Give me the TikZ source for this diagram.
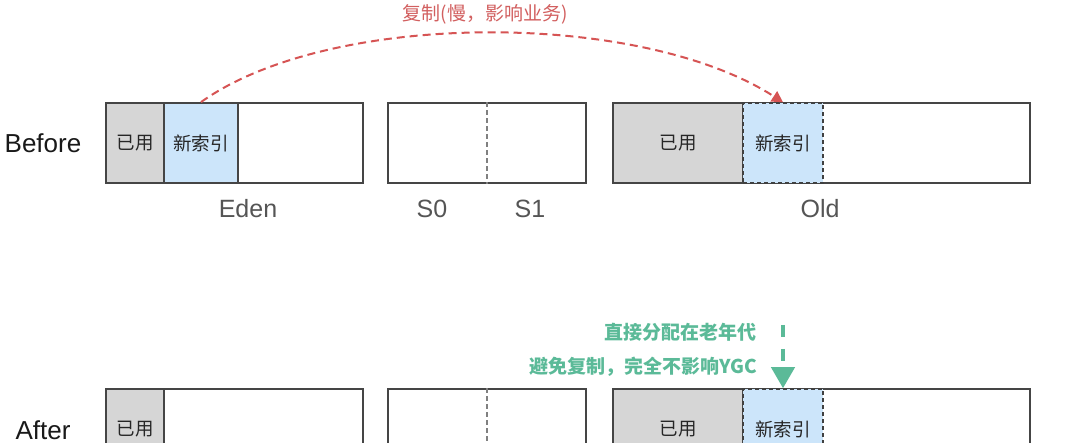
\documentclass[tikz,border=0pt]{standalone}
\usepackage{fontspec}
\setmainfont{Liberation Sans}
\newfontfamily\cjk{Noto Sans CJK SC}
\usetikzlibrary{arrows.meta}
\definecolor{boxline}{HTML}{454545}
\definecolor{usedfill}{HTML}{D6D6D6}
\definecolor{newfill}{HTML}{CCE5FA}
\definecolor{labgray}{HTML}{555555}
\definecolor{redc}{HTML}{D65454}
\definecolor{redtxt}{HTML}{D25F5F}
\definecolor{greenc}{HTML}{5BBA98}
\tikzset{
  region/.style={draw=boxline, line width=1.8pt, inner sep=0pt, minimum height=80pt},
  usedblk/.style={region, fill=usedfill, font=\cjk\fontsize{18.5}{20}\selectfont, text=black!85},
  newblk/.style={region, fill=newfill, font=\cjk\fontsize{18.5}{20}\selectfont, text=black!85},
  newdashed/.style={newblk, dash pattern=on 4pt off 3pt, line width=1.5pt, draw=black!75},
  genlabel/.style={font=\fontsize{25}{27}\selectfont, text=labgray, inner sep=0pt},
  rowlabel/.style={font=\fontsize{26}{28}\selectfont, text=black!90, inner sep=0pt},
  divider/.style={draw=black!50, line width=1.3pt, dash pattern=on 5pt off 3pt},
  redarrow/.style={draw=redc, line width=2pt, dash pattern=on 8pt off 5pt, -{Triangle[length=11pt,width=12pt]}},
  greenarrow/.style={draw=greenc, line width=4pt, dash pattern=on 12pt off 12pt, -{Triangle[length=21pt,width=23pt]}},
  greentxt/.style={font=\cjk\bfseries\fontsize{19}{21}\selectfont, text=greenc, inner sep=0pt, anchor=east},
}
\begin{document}
\begin{tikzpicture}[x=1pt,y=-1pt]
\useasboundingbox (0,0) rectangle (1080,443);
\fill[white] (0,0) rectangle (1080,443);
\clip (0,0) rectangle (1080,443);

% ---------- Before ----------
\node[rowlabel] (before) at (43,143) {Before};

\node[region, minimum width=257pt] (eden) at (234.5,143) {};
\node[usedblk, minimum width=58pt] (edenused) at (135,143) {已用};
\node[newblk, minimum width=74pt] (edennew) at (201,143) {新索引};

\node[region, minimum width=198pt] (surv) at (487,143) {};
\draw[divider] (surv.north) -- (surv.south);

\node[region, minimum width=417pt] (old) at (821.5,143) {};
\node[usedblk, minimum width=130pt] (oldused) at (678,143) {已用};
\node[newdashed, minimum width=80pt] (oldnew) at (783,143) {新索引};

\node[genlabel] (edenlab) at (248,209) {Eden};
\node[genlabel] (s0lab) at (432,209) {S0};
\node[genlabel] (s1lab) at (530,209) {S1};
\node[genlabel] (oldlab) at (820,209) {Old};

\node[font=\cjk\fontsize{19}{21}\selectfont, text=redtxt, inner sep=0pt] (copylab) at (485,14) {复制(慢，影响业务)};
\draw[redarrow] (edennew.north) .. controls (330,10) and (640,10) .. (oldnew.north);

% ---------- After ----------
\node[rowlabel] (after) at (43,430) {After};

\node[region, minimum width=257pt] (eden2) at (234.5,429) {};
\node[usedblk, minimum width=58pt] (edenused2) at (135,429) {已用};

\node[region, minimum width=198pt] (surv2) at (487,429) {};
\draw[divider] (surv2.north) -- (surv2.south);

\node[region, minimum width=417pt] (old2) at (821.5,429) {};
\node[usedblk, minimum width=130pt] (oldused2) at (678,429) {已用};
\node[newdashed, minimum width=80pt] (oldnew2) at (783,429) {新索引};

\node[greentxt] (g1) at (757,332) {直接分配在老年代};
\node[greentxt] (g2) at (757,367) {避免复制，完全不影响YGC};
\coordinate (gstart) at (783,325);
\draw[greenarrow] (gstart) -- (oldnew2.north);
\end{tikzpicture}
\end{document}
